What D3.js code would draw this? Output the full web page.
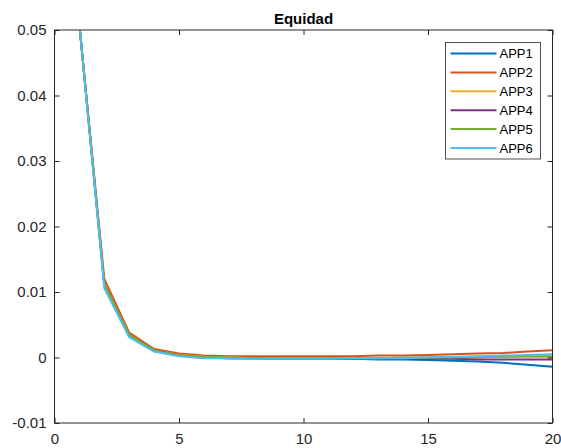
<!DOCTYPE html>
<html>
<head>
<meta charset="utf-8">
<script src="https://cdn.jsdelivr.net/npm/d3@7"></script>
<style>
  body { margin: 0; background: #fff; }
  svg { display: block; font-family: "Liberation Sans", Arial, Helvetica, sans-serif; }
</style>
</head>
<body>
<div id="chart"></div>
<script>
// Data
let steps = d3.range(1, 21);
let seriesNames = ['APP1', 'APP2', 'APP3', 'APP4', 'APP5', 'APP6'];
let app1 = [0.0508, 0.0110, 0.0033, 0.0010, 0.0003, 0.0000, -0.0001, -0.0001, -0.0002, -0.0002, -0.0002, -0.0002, -0.0003, -0.0003, -0.0004, -0.0005, -0.0006, -0.0008, -0.0011, -0.0014];
let app2 = [0.0508, 0.0120, 0.0038, 0.0013, 0.0006, 0.0003, 0.0002, 0.0002, 0.0002, 0.0002, 0.0002, 0.0002, 0.0003, 0.0003, 0.0004, 0.0005, 0.0006, 0.0007, 0.0009, 0.0011];
let app3 = [0.0508, 0.0113, 0.0035, 0.0011, 0.0004, 0.0001, 0.0000, -0.0001, -0.0001, -0.0001, -0.0001, -0.0001, -0.0001, -0.0001, 0.0000, 0.0000, 0.0000, 0.0001, 0.0001, 0.0001];
let app4 = [0.0508, 0.0112, 0.0034, 0.0011, 0.0003, 0.0000, -0.0001, -0.0001, -0.0002, -0.0002, -0.0002, -0.0002, -0.0002, -0.0002, -0.0002, -0.0002, -0.0003, -0.0003, -0.0003, -0.0003];
let app5 = [0.0508, 0.0112, 0.0034, 0.0011, 0.0003, 0.0001, 0.0000, -0.0001, -0.0001, -0.0001, -0.0001, -0.0001, -0.0001, 0.0000, 0.0000, 0.0000, 0.0001, 0.0001, 0.0002, 0.0002];
let app6 = [0.0508, 0.0106, 0.0031, 0.0009, 0.0002, -0.0001, -0.0001, -0.0002, -0.0002, -0.0002, -0.0002, -0.0001, -0.0001, -0.0001, 0.0000, 0.0001, 0.0002, 0.0003, 0.0004, 0.0005];
let seriesValues = [app1, app2, app3, app4, app5, app6];
let xTicks = [0, 5, 10, 15, 20];
let yTicks = [-0.01, 0, 0.01, 0.02, 0.03, 0.04, 0.05];
let yTickLabels = ['-0.01', '0', '0.01', '0.02', '0.03', '0.04', '0.05'];

// MATLAB default line colours
let colors = ['#0072BD', '#D95319', '#EDB120', '#7E2F8E', '#77AC30', '#4DBEEE'];

let svgWidth = 561,
    svgHeight = 448;
let margin = { left: 54.5, right: 8.5, top: 30, bottom: 25 };
let plotW = svgWidth - margin.left - margin.right,
    plotH = svgHeight - margin.top - margin.bottom;
let axisColor = '#262626';

let svg = d3.select('#chart')
    .append('svg')
    .attr('width', svgWidth)
    .attr('height', svgHeight);

let xScale = d3.scaleLinear().domain([0, 20]).range([0, plotW]);
let yScale = d3.scaleLinear().domain([-0.01, 0.05]).range([plotH, 0]);

svg.append('defs').append('clipPath')
    .attr('id', 'plot-clip')
    .append('rect')
    .attr('width', plotW)
    .attr('height', plotH);

let chartGroup = svg.append('g')
    .attr('transform', `translate(${margin.left}, ${margin.top})`);

// Lines
let line = d3.line()
    .x((d, i) => xScale(steps[i]))
    .y(d => yScale(d));

chartGroup.append('g')
    .attr('clip-path', 'url(#plot-clip)')
    .selectAll('path')
    .data(seriesValues)
    .enter()
    .append('path')
    .attr('d', line)
    .attr('fill', 'none')
    .attr('stroke', (d, i) => colors[i])
    .attr('stroke-width', 2)
    .attr('stroke-linejoin', 'round');

// Axes (ticks inward, on all four sides like MATLAB box)
function styleAxis(g) {
    g.select('.domain').remove();
    g.selectAll('line').attr('stroke', axisColor);
    g.selectAll('text')
        .attr('fill', axisColor)
        .style('font-size', '15px');
}

chartGroup.append('g')
    .attr('transform', `translate(0, ${plotH})`)
    .call(d3.axisBottom(xScale).tickValues(xTicks).tickSize(-5).tickPadding(10).tickFormat(d3.format('d')))
    .call(styleAxis);

chartGroup.append('g')
    .call(d3.axisTop(xScale).tickValues(xTicks).tickSize(-5).tickFormat(''))
    .call(styleAxis);

chartGroup.append('g')
    .call(d3.axisLeft(yScale).tickValues(yTicks).tickSize(-5).tickPadding(8).tickFormat((d, i) => yTickLabels[i]))
    .call(styleAxis);

chartGroup.append('g')
    .attr('transform', `translate(${plotW}, 0)`)
    .call(d3.axisRight(yScale).tickValues(yTicks).tickSize(-5).tickFormat(''))
    .call(styleAxis);

// Box
chartGroup.append('rect')
    .attr('width', plotW)
    .attr('height', plotH)
    .attr('fill', 'none')
    .attr('stroke', axisColor)
    .attr('stroke-width', 1);

// Title
svg.append('text')
    .attr('x', margin.left + plotW / 2)
    .attr('y', 24)
    .attr('text-anchor', 'middle')
    .attr('fill', '#000')
    .style('font-size', '15px')
    .style('font-weight', 'bold')
    .text('Equidad');

// Legend
let legend = svg.append('g')
    .attr('transform', 'translate(445.5, 42.5)');

legend.append('rect')
    .attr('width', 95)
    .attr('height', 116.5)
    .attr('fill', '#fff')
    .attr('stroke', axisColor)
    .attr('stroke-width', 0.8);

let entries = legend.selectAll('g')
    .data(seriesNames)
    .enter()
    .append('g')
    .attr('transform', (d, i) => `translate(0, ${11 + i * 18.9})`);

entries.append('line')
    .attr('x1', 5)
    .attr('x2', 51)
    .attr('stroke', (d, i) => colors[i])
    .attr('stroke-width', 2);

entries.append('text')
    .attr('x', 54)
    .attr('dy', '0.35em')
    .attr('fill', '#000')
    .style('font-size', '13px')
    .text(d => d);
</script>
</body>
</html>
